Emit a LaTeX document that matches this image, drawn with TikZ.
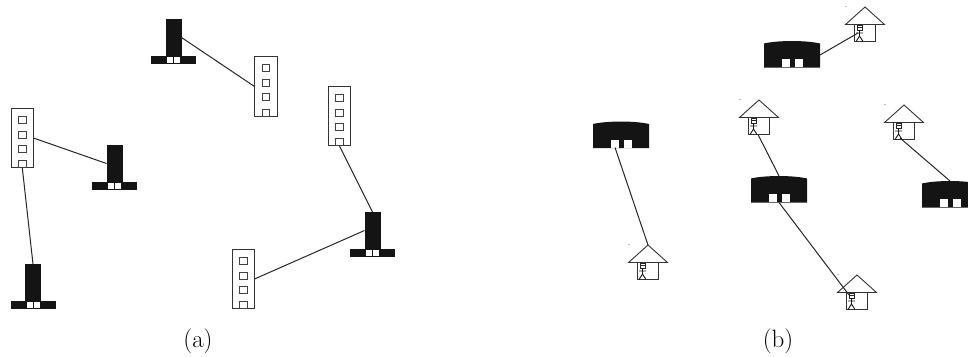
\documentclass[tikz,border=0pt]{standalone}
\usepackage{fontspec}
\begin{document}
\begin{tikzpicture}[x=1pt,y=-1pt,line cap=butt,
  lnk/.style={draw=black!85,line width=1pt},
  blackfill/.style={fill=black!92,draw=none},
  win/.style={fill=white,draw=none},
  sq/.style={draw=black!75,fill=white,line width=0.9pt},
  captext/.style={font=\fontsize{25}{27}\selectfont,inner sep=0pt},
  tower/.pic={
    \fill[blackfill] (-8,0) rectangle (8,37);
    \fill[blackfill] (-22.5,37) rectangle (22.5,45);
    \fill[win] (-6.5,38) rectangle (-0.5,44);
    \fill[win] (0.5,38) rectangle (6.5,44);
    \coordinate (-n) at (0,0);
    \coordinate (-w) at (-8,18.5);
    \coordinate (-e) at (8,18.5);
  },
  tall/.pic={
    \draw[draw=black!80,fill=white,line width=0.9pt] (0,0) rectangle (22.5,59.5);
    \foreach \yy in {8,23,37,52.5}{
      \draw[sq] (7.5,\yy) rectangle (15,{\yy+7});
    }
    \coordinate (-s) at (11.25,59.5);
    \coordinate (-w) at (0,30);
    \coordinate (-e) at (22.5,30);
  },
  dome/.pic={
    \fill[blackfill] (0,2.5) .. controls (14,-0.8) and (42,-0.8) .. (56,2.5) -- (56,26.5) -- (0,26.5) -- cycle;
    \fill[win] (18,18) rectangle (26,26);
    \fill[win] (31,18) rectangle (39,26);
    \coordinate (-n) at (28,0);
    \coordinate (-s) at (28,26.5);
    \coordinate (-e) at (56,14);
    \coordinate (-sw) at (22,26);
  },
  house/.pic={
    \draw[draw=black!80,fill=white,line width=0.9pt] (-19.5,17.5) -- (0,0) -- (19.5,17.5) -- cycle;
    \draw[draw=black!80,line width=0.9pt] (-11,17.5) -- (-11,34.5) -- (10.5,34.5) -- (10.5,17.5);
    \draw[black!85,line width=0.8pt] (-8,23) -- (-8,18) -- (-3,18) -- (-3,23) -- cycle (-8,20.5) -- (-3,20.5);
    \draw[black!90,line width=0.9pt] (-5.5,23) -- (-5.5,29) (-5.5,29) -- (-9,34.5) (-5.5,29) -- (-2,34.5) (-9,26) -- (-2,26);
    \fill[black!50] (-19,-0.5) circle (0.6);
    \coordinate (-a) at (0,0);
    \coordinate (-f) at (-8,20);
    \coordinate (-m) at (-7,26);
    \coordinate (-s) at (-1,34.5);
    \coordinate (-sl) at (-4,33);
  }]
\useasboundingbox (0,0) rectangle (968,356);
% panel (a)
\pic (t1) at (173.5,19) {tower};
\pic (t2) at (114.5,145) {tower};
\pic (t3) at (33,264) {tower};
\pic (t4) at (372.5,212) {tower};
\pic (b1) at (11,108) {tall};
\pic (b2) at (254.5,56.5) {tall};
\pic (b3) at (328,86) {tall};
\pic (b4) at (232,249) {tall};
\draw[lnk] (b1-e) -- (t2-w);
\draw[lnk] (b1-s) -- (t3-n);
\draw[lnk] (t1-e) -- (b2-w);
\draw[lnk] (b3-s) -- (t4-n);
\draw[lnk] (b4-e) -- (t4-w);
% panel (b)
\pic (d1) at (764,41) {dome};
\pic (d2) at (593,121.5) {dome};
\pic (d3) at (751,176) {dome};
\begin{scope}
\clip (900,170) rectangle (968,215);
\pic (d4) at (922,181) {dome};
\end{scope}
\pic (h1) at (865,7) {house};
\pic (h2) at (759,100) {house};
\pic (h3) at (904,105) {house};
\pic (h4) at (648,245) {house};
\pic (h5) at (857,275) {house};
\draw[lnk] (d1-e) -- (h1-m);
\draw[lnk] (d2-sw) -- (h4-a);
\draw[lnk] (h2-s) -- (d3-n);
\draw[lnk] (d3-s) -- (h5-f);
\draw[lnk] (h3-sl) -- (d4-n);
\node[captext] (capa) at (198,341) {(a)};
\node[captext] (capb) at (778,341) {(b)};
\end{tikzpicture}
\end{document}
